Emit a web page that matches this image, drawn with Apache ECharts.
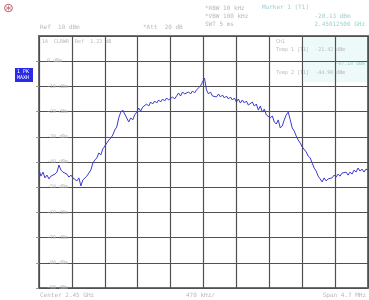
<!DOCTYPE html>
<html>
<head>
<meta charset="utf-8">
<script src="https://cdn.jsdelivr.net/npm/echarts@6/dist/echarts.min.js"></script>
<style>
  html, body { margin: 0; padding: 0; background: #fff; }
  #chart { width: 369px; height: 300px; }
</style>
</head>
<body>
<div id="chart"></div>
<script type="text/javascript">
// screen layout: 10 x 10 divisions, ref level 10 dBm, 10 dB / div
var refLevel = 10;
var bottomLevel = -90;
var divisions = 10;

// trace 1 levels (dBm), one per sweep point
var traceLevels = [
  -43.2, -45.6, -44.0, -46.3, -45.2, -46.7, -45.6, -46.3, -44.8, -44.0,
  -41.2, -43.2, -44.0, -43.6, -44.8, -46.0, -45.2, -46.3, -45.6, -47.5,
  -46.3, -49.5, -47.1, -46.7, -45.6, -45.6, -43.2, -40.4, -39.2, -38.4,
  -36.4, -37.2, -34.8, -33.7, -32.5, -31.3, -30.5, -29.3, -27.3, -26.1,
  -22.5, -20.2, -19.4, -21.0, -21.7, -24.1, -22.5, -23.3, -21.3, -20.2,
  -18.6, -19.8, -18.2, -18.6, -17.0, -17.8, -16.2, -17.0, -15.8, -16.6,
  -15.4, -16.2, -15.0, -15.8, -14.6, -15.4, -15.0, -14.2, -15.0, -13.8,
  -12.6, -13.8, -12.2, -13.0, -13.4, -12.2, -13.0, -11.8, -12.6, -11.4,
  -10.6, -9.8, -8.3, -6.7, -11.4, -13.0, -12.2, -13.8, -13.4, -14.2,
  -13.0, -14.2, -13.4, -14.6, -13.8, -15.0, -14.2, -15.4, -14.6, -16.2,
  -15.0, -16.6, -15.4, -16.6, -15.8, -17.4, -17.0, -16.2, -17.8, -17.0,
  -19.4, -17.8, -20.2, -19.0, -21.3, -20.6, -22.5, -21.7, -24.1, -24.9,
  -23.3, -26.5, -25.7, -23.3, -21.3, -20.2, -23.3, -26.5, -27.7, -29.7,
  -31.3, -32.5, -34.0, -33.3, -36.0, -37.6, -38.4, -40.4, -42.4, -43.6,
  -45.6, -46.7, -47.9, -46.3, -47.5, -46.7, -46.0, -46.3, -45.2, -46.0,
  -44.8, -45.6, -44.4, -44.8, -44.0, -45.2, -44.0, -44.8, -43.2, -44.0,
  -42.4, -43.6, -42.8, -44.0, -42.8, -43.2
];

// header / footer texts
var settingsLeft = ["Ref  10 dBm", "*Att  20 dB"];
var settingsRight = ["*RBW 10 kHz", "*VBW 100 kHz", "SWT 5 ms"];
var markerInfo = ["Marker 1 [T1]", "-20.13 dBm", "2.45012500 GHz"];
var tableRows = ["Ch1", "Temp 1 [T1]  -21.42 dBm", "-47.18 dBm", "Temp 2 [T1]  -44.90 dBm"];
var footer = ["Center 2.45 GHz", "470 kHz/", "Span 4.7 MHz"];

var chart = echarts.init(document.getElementById("chart"), null, { renderer: "canvas" });

var points = [];
for (var i = 0; i < traceLevels.length; i++) {
  points.push([i, traceLevels[i]]);
}

var faint = "#b8b8b8";
var cyanText = "#9fd0d0";
var gridColor = "#505050";

chart.setOption({
  animation: false,
  backgroundColor: "#fff",
  grid: { left: 39, right: 1, top: 36, bottom: 12, show: true, borderColor: "#707070", borderWidth: 2 },
  xAxis: [
    {
      type: "value", min: 0, max: divisions, interval: 1,
      axisLine: { show: false }, axisTick: { show: false }, axisLabel: { show: false },
      splitLine: { show: true, lineStyle: { color: gridColor, width: 1.2 } }
    },
    {
      type: "value", min: 0, max: traceLevels.length - 1,
      show: false
    }
  ],
  yAxis: {
    type: "value", min: bottomLevel, max: refLevel, interval: 10,
    axisLine: { show: false },
    axisTick: { show: true, inside: false, length: 3, lineStyle: { color: "#999" } },
    axisLabel: {
      inside: true, color: faint, fontSize: 5, fontFamily: "DejaVu Sans Mono",
      showMinLabel: true, showMaxLabel: false,
      formatter: function (v) { return v + " dBm"; }
    },
    splitLine: { show: true, lineStyle: { color: gridColor, width: 1.2 } }
  },
  series: [
    {
      name: "trace 1",
      type: "line",
      xAxisIndex: 1,
      data: points,
      symbol: "none",
      lineStyle: { color: "#3a3ad0", width: 1 },
      z: 5
    }
  ],
  graphic: [
    // marker table background
    { type: "rect", left: 304, top: 37, shape: { width: 64, height: 45 }, style: { fill: "#eefafa" }, z: -1 },
    // logo
    { type: "text", left: 3, top: 2, style: { text: "\u229b", fill: "#c06070", font: "13px DejaVu Sans" } },
    // trace indicator
    { type: "rect", left: 15, top: 68, shape: { width: 18, height: 14 }, style: { fill: "#2a2ae8" } },
    { type: "text", left: 17, top: 69, style: { text: "1 PK\nMAXH", fill: "#fff", font: "5px DejaVu Sans Mono", lineHeight: 6 } },
    // header
    { type: "text", left: 40, top: 24, style: { text: settingsLeft[0], fill: faint, font: "6px DejaVu Sans Mono" } },
    { type: "text", left: 143, top: 24, style: { text: settingsLeft[1], fill: faint, font: "6px DejaVu Sans Mono" } },
    { type: "text", left: 205, top: 4, style: { text: settingsRight.join("\n"), fill: faint, font: "6px DejaVu Sans Mono", lineHeight: 8 } },
    { type: "text", left: 262, top: 4, style: { text: markerInfo[0], fill: cyanText, font: "6px DejaVu Sans Mono" } },
    { type: "text", right: 4, top: 12, style: { text: markerInfo[1] + "\n" + markerInfo[2], fill: cyanText, font: "6px DejaVu Sans Mono", lineHeight: 8, align: "right" } },
    // inside grid, first row
    { type: "text", left: 42, top: 39, style: { text: "1A  CLRWR  Ref  1.22 dB", fill: faint, font: "5px DejaVu Sans Mono" } },
    // marker table
    { type: "text", left: 276, top: 39, style: { text: tableRows[0], fill: faint, font: "5px DejaVu Sans Mono" } },
    { type: "text", left: 276, top: 47, style: { text: tableRows[1], fill: faint, font: "5px DejaVu Sans Mono" } },
    { type: "text", right: 4, top: 61, style: { text: tableRows[2], fill: cyanText, font: "5px DejaVu Sans Mono", align: "right" } },
    { type: "text", left: 276, top: 70, style: { text: tableRows[3], fill: faint, font: "5px DejaVu Sans Mono" } },
    // footer
    { type: "text", left: 40, top: 292, style: { text: footer[0], fill: faint, font: "6px DejaVu Sans Mono" } },
    { type: "text", left: 186, top: 292, style: { text: footer[1], fill: faint, font: "6px DejaVu Sans Mono" } },
    { type: "text", right: 3, top: 292, style: { text: footer[2], fill: faint, font: "6px DejaVu Sans Mono", align: "right" } }
  ]
});
</script>
</body>
</html>
